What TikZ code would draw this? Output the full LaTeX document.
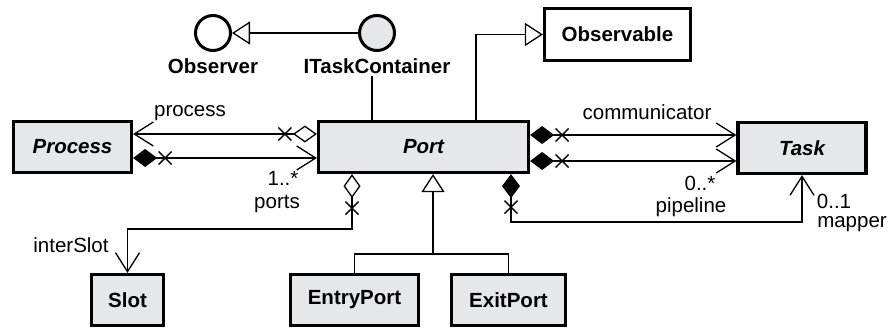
\documentclass[tikz,border=0pt]{standalone}
\usepackage{fontspec}
\setmainfont{Liberation Sans}
\usetikzlibrary{arrows.meta,decorations.markings}
\definecolor{boxgray}{HTML}{E6E7E8}

\tikzset{
  txt/.style={font=\fontsize{20.5}{24}\selectfont},
  cls/.style={draw, line width=3.2pt, fill=boxgray, inner sep=0pt,
    font=\fontsize{20.5}{24}\selectfont\bfseries},
  abstractcls/.style={cls, font=\fontsize{20.5}{24}\selectfont\bfseries\itshape},
  lbl/.style={txt, anchor=base, inner sep=0pt},
  ifc/.style={circle, draw, line width=3pt, minimum size=35pt, inner sep=0pt},
  conn/.style={line width=1.3pt},
  navig/.tip={Straight Barb[length=19pt, width=24pt]},
  aggr/.tip={Diamond[length=24pt, width=17pt, fill=white]},
  comp/.tip={Diamond[length=24pt, width=18pt]},
  genz/.tip={Triangle[length=18pt, width=23pt, fill=white]},
  xmark/.style={postaction={decorate, decoration={markings,
    mark=at position #1 with {\draw[arrows=-, line width=1.3pt]
      (-6.5pt,-6.5pt) -- (6.5pt,6.5pt) (-6.5pt,6.5pt) -- (6.5pt,-6.5pt);}}}}
}

\begin{document}
\begin{tikzpicture}[x=1pt, y=-1pt]
\useasboundingbox (0,0) rectangle (893,329);

% classes
\node[abstractcls, minimum width=118pt, minimum height=51pt] (proc) at (72.5,147) {Process};
\node[abstractcls, minimum width=210pt, minimum height=51pt] (port) at (423.5,147) {Port};
\node[abstractcls, minimum width=128pt, minimum height=51pt] (task) at (802,148) {Task};
\node[cls, fill=white, minimum width=146pt, minimum height=52pt] (obsv) at (617.5,34.5) {Observable};
\node[cls, minimum width=72pt, minimum height=51pt] (slot) at (127.5,300) {Slot};
\node[cls, minimum width=128pt, minimum height=51pt] (entry) at (354.5,300) {EntryPort};
\node[cls, minimum width=114pt, minimum height=51pt] (exit) at (508.5,300) {ExitPort};

% interfaces
\node[ifc, fill=white] (obs) at (213,33) {};
\node[ifc, fill=boxgray] (itc) at (377,33) {};
\node[lbl, font=\fontsize{20.5}{24}\selectfont\bfseries] (obslbl) at (213,73) {Observer};
\node[lbl, inner sep=3pt, font=\fontsize{20.5}{24}\selectfont\bfseries] (itclbl) at (377,73) {ITaskContainer};

% interface relations
\draw[conn, -{genz}] (itc.west) -- (obs.east);
\draw[conn] ([xshift=-5pt]itclbl.south) -- ([xshift=-5pt]itclbl.south |- port.north);
\draw[conn, -{genz}] ([xshift=52.5pt]port.north) |- (obsv.west);

% Process <-> Port
\draw[conn, {aggr}-{navig}, xmark=32pt] ([yshift=13pt]port.west) coordinate (pp1) -- (pp1 -| proc.east);
\draw[conn, {comp}-{navig}, xmark=32pt] ([yshift=-11pt]proc.east) coordinate (pp2) -- (pp2 -| port.west);
\node[lbl] (lprocess) at (190,116) {process};
\node[lbl] (lmult1) at (283,185) {1..*};
\node[lbl] (lports) at (277,208) {ports};

% Port <-> Task
\draw[conn, {comp}-{navig}, xmark=32pt] ([yshift=12pt]port.east) coordinate (pt1) -- (pt1 -| task.west);
\draw[conn, {comp}-{navig}, xmark=32pt] ([yshift=-14pt]port.east) coordinate (pt2) -- (pt2 -| task.west);
\node[lbl] (lcomm) at (647,119) {communicator};
\node[lbl] (lmult2) at (700,190) {0..*};
\node[lbl] (lpipe) at (691,212) {pipeline};

% mapper
\draw[conn, {comp}-{navig}, xmark=33pt] ([xshift=87.5pt]port.south) coordinate (pm) -- (pm |- 0,222) -| (task.south);
\node[lbl] (lmult3) at (834,208) {0..1};
\node[lbl] (lmapper) at (852,227) {mapper};

% interSlot
\draw[conn, {aggr}-{navig}, xmark=34pt] ([xshift=-71.5pt]port.south) coordinate (ps) -- (ps |- 0,229) -| (slot.north);
\node[lbl] (linter) at (71,252) {interSlot};

% generalization
\draw[conn, {genz}-] ([xshift=9.5pt]port.south) coordinate (pg) -- (pg |- 0,254) coordinate (gj);
\draw[conn] (entry.north) |- (gj) -| (exit.north);
\end{tikzpicture}
\end{document}
